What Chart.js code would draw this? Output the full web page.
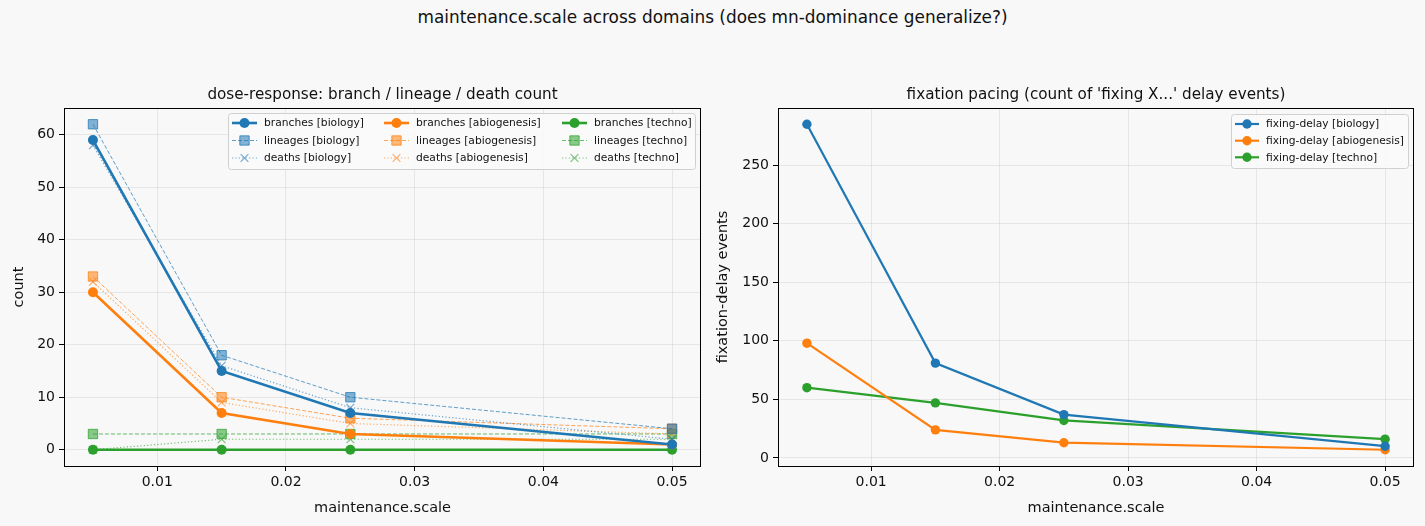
<!DOCTYPE html>
<html>
<head>
<meta charset="utf-8">
<script src="https://cdn.jsdelivr.net/npm/chart.js@4.4.1/dist/chart.umd.min.js"></script>
<style>
  html, body { margin: 0; padding: 0; background: #f8f8f8; }
  #wrap { position: relative; width: 1425px; height: 526px; background: #f8f8f8; overflow: hidden; }
  #sup { position: absolute; left: 0; top: 7px; width: 1425px; text-align: center;
         font-family: 'DejaVu Sans', sans-serif; font-size: 16.9px; color: #111; }
  canvas { position: absolute; top: 0; }
  #c1 { left: 0; }
  #c2 { left: 712px; }
</style>
</head>
<body>
<div id="wrap">
  <div id="sup">maintenance.scale across domains (does mn-dominance generalize?)</div>
  <canvas id="c1" width="712" height="526" style="width:712px;height:526px"></canvas>
  <canvas id="c2" width="713" height="526" style="width:713px;height:526px"></canvas>
</div>
<script>
// ---------------- data ----------------
const scales = [0.005, 0.015, 0.025, 0.05];
const xTicks = [0.01, 0.02, 0.03, 0.04, 0.05];
const countTicks = [0, 10, 20, 30, 40, 50, 60];
const delayTicks = [0, 50, 100, 150, 200, 250];

const branchesBiology = [59, 15, 7, 1];
const lineagesBiology = [62, 18, 10, 4];
const deathsBiology = [58, 16, 8, 2];
const branchesAbiogenesis = [30, 7, 3, 1];
const lineagesAbiogenesis = [33, 10, 6, 4];
const deathsAbiogenesis = [32, 9, 5, 3];
const branchesTechno = [0, 0, 0, 0];
const lineagesTechno = [3, 3, 3, 3];
const deathsTechno = [0, 2, 2, 2];

const fixingDelayBiology = [285, 81, 37, 10];
const fixingDelayAbiogenesis = [98, 24, 13, 7];
const fixingDelayTechno = [60, 47, 32, 16];

// ---------------- styling ----------------
const FONT = "'DejaVu Sans', sans-serif";
const C = { blue: [31,119,180], orange: [255,127,14], green: [44,160,44] };
const rgba = (c, a) => `rgba(${c[0]},${c[1]},${c[2]},${a})`;
const pts = ys => scales.map((x, i) => ({ x: x, y: ys[i] }));

function branchesDs(label, ys, c) {
  return { label, data: pts(ys), borderColor: rgba(c,1), backgroundColor: rgba(c,1),
    borderWidth: 2.6, pointStyle: 'circle', pointRadius: 5, pointBorderWidth: 0,
    pointBackgroundColor: rgba(c,1), tension: 0 };
}
function lineagesDs(label, ys, c) {
  return { label, data: pts(ys), borderColor: rgba(c,0.7), backgroundColor: rgba(c,0.55),
    borderWidth: 1, borderDash: [4, 2], pointStyle: 'rect', pointRadius: 6.6,
    pointBorderWidth: 1, pointBorderColor: rgba(c,0.75), pointBackgroundColor: rgba(c,0.55), tension: 0 };
}
function deathsDs(label, ys, c) {
  return { label, data: pts(ys), borderColor: rgba(c,0.65), backgroundColor: rgba(c,0.6),
    borderWidth: 1.2, borderDash: [1.2, 2.2], pointStyle: 'crossRot', pointRadius: 5.5,
    pointBorderWidth: 1.2, pointBorderColor: rgba(c,0.6), tension: 0 };
}
function delayDs(label, ys, c) {
  return { label, data: pts(ys), borderColor: rgba(c,1), backgroundColor: rgba(c,1),
    borderWidth: 2.2, pointStyle: 'circle', pointRadius: 4.7, pointBorderWidth: 0,
    pointBackgroundColor: rgba(c,1), tension: 0 };
}

function margins(arrs) {
  const all = [].concat(...arrs);
  const lo = Math.min(...all), hi = Math.max(...all);
  const m = (hi - lo) * 0.05;
  return { min: lo - m, max: hi + m };
}
const xr = (() => { const m = (scales[scales.length-1] - scales[0]) * 0.05;
  return { min: scales[0] - m, max: scales[scales.length-1] + m }; })();

// plugin: frame, subplot title, custom legend
const decor = {
  id: 'decor',
  afterDraw(chart, args, opts) {
    const ctx = chart.ctx, a = chart.chartArea;
    ctx.save();
    const L = opts.legend;
    if (L) {
      ctx.fillStyle = 'rgba(250,250,250,0.85)';
      ctx.strokeStyle = '#d0d0d0';
      ctx.lineWidth = 1;
      ctx.beginPath();
      ctx.roundRect(L.box[0] + 0.5, L.box[1] + 0.5, L.box[2], L.box[3], 3);
      ctx.fill(); ctx.stroke();
      ctx.font = L.fontSize + 'px ' + FONT;
      ctx.textBaseline = 'middle';
      ctx.textAlign = 'left';
      chart.data.datasets.forEach((ds, i) => {
        const col = Math.floor(i / L.rows), row = i % L.rows;
        const hx = L.colX[col], hy = L.rowY[row];
        ctx.save();
        ctx.strokeStyle = ds.borderColor;
        ctx.lineWidth = ds.borderWidth;
        ctx.setLineDash(ds.borderDash || []);
        ctx.beginPath(); ctx.moveTo(hx, hy); ctx.lineTo(hx + L.handle, hy); ctx.stroke();
        ctx.setLineDash([]);
        ctx.fillStyle = ds.pointBackgroundColor || ds.borderColor;
        ctx.strokeStyle = ds.pointBorderColor || ds.borderColor;
        Chart.helpers.drawPoint(ctx, { pointStyle: ds.pointStyle, radius: ds.pointRadius,
          rotation: 0, borderWidth: ds.pointBorderWidth }, hx + L.handle / 2, hy);
        ctx.restore();
        ctx.fillStyle = '#111';
        ctx.fillText(ds.label, hx + L.handle + L.gap, hy + 0.5);
      });
    }
    ctx.strokeStyle = '#000';
    ctx.lineWidth = 1;
    ctx.strokeRect(Math.round(a.left) + 0.5, Math.round(a.top) + 0.5,
                   Math.round(a.right - a.left) - 1, Math.round(a.bottom - a.top));
    ctx.fillStyle = '#111';
    ctx.font = '15.2px ' + FONT;
    ctx.textAlign = 'center';
    ctx.textBaseline = 'middle';
    ctx.fillText(opts.title, (a.left + a.right) / 2, a.top - 13);
    ctx.restore();
  }
};

function makeOptions(yr, yTickVals, yTitle, yAxisWidth, yTitlePad, padRight, legend, title) {
  return {
    responsive: false, animation: false, devicePixelRatio: 1,
    layout: { padding: { top: 108, right: padRight, bottom: 0, left: 0 } },
    plugins: { legend: { display: false }, tooltip: { enabled: false },
               decor: { legend, title } },
    scales: {
      x: { type: 'linear', min: xr.min, max: xr.max,
        afterBuildTicks: s => { s.ticks = xTicks.map(v => ({ value: v })); },
        afterFit: s => { s.height = 60; },
        grid: { color: 'rgba(0,0,0,0.09)', lineWidth: 0.8, tickColor: '#000', tickLength: 5, tickWidth: 1 },
        border: { display: false },
        ticks: { color: '#111', font: { family: FONT, size: 14 }, padding: 3, maxRotation: 0,
                 callback: v => v.toFixed(2) },
        title: { display: true, text: 'maintenance.scale', color: '#111',
                 font: { family: FONT, size: 14.5 }, padding: { top: 0, bottom: 9 } } },
      y: { type: 'linear', min: yr.min, max: yr.max,
        afterBuildTicks: s => { s.ticks = yTickVals.map(v => ({ value: v })); },
        afterFit: s => { s.width = yAxisWidth; },
        grid: { color: 'rgba(0,0,0,0.09)', lineWidth: 0.8, tickColor: '#000', tickLength: 5, tickWidth: 1 },
        border: { display: false },
        ticks: { color: '#111', font: { family: FONT, size: 14 }, padding: 4,
                 callback: v => String(v) },
        title: { display: true, text: yTitle, color: '#111',
                 font: { family: FONT, size: 14.5 }, padding: { top: yTitlePad, bottom: 0 } } }
    }
  };
}

Chart.register(decor);

new Chart(document.getElementById('c1'), {
  type: 'line',
  data: { datasets: [
    branchesDs('branches [biology]', branchesBiology, C.blue),
    lineagesDs('lineages [biology]', lineagesBiology, C.blue),
    deathsDs('deaths [biology]', deathsBiology, C.blue),
    branchesDs('branches [abiogenesis]', branchesAbiogenesis, C.orange),
    lineagesDs('lineages [abiogenesis]', lineagesAbiogenesis, C.orange),
    deathsDs('deaths [abiogenesis]', deathsAbiogenesis, C.orange),
    branchesDs('branches [techno]', branchesTechno, C.green),
    lineagesDs('lineages [techno]', lineagesTechno, C.green),
    deathsDs('deaths [techno]', deathsTechno, C.green)
  ] },
  options: makeOptions(
    margins([branchesBiology, lineagesBiology, deathsBiology, branchesAbiogenesis, lineagesAbiogenesis,
             deathsAbiogenesis, branchesTechno, lineagesTechno, deathsTechno]),
    countTicks, 'count', 64, 11, 11,
    { box: [228, 113, 467, 56], rows: 3, rowY: [123, 140.5, 158], colX: [232, 384, 562],
      handle: 25, gap: 7, fontSize: 10.7 },
    'dose-response: branch / lineage / death count')
});

new Chart(document.getElementById('c2'), {
  type: 'line',
  data: { datasets: [
    delayDs('fixing-delay [biology]', fixingDelayBiology, C.blue),
    delayDs('fixing-delay [abiogenesis]', fixingDelayAbiogenesis, C.orange),
    delayDs('fixing-delay [techno]', fixingDelayTechno, C.green)
  ] },
  options: makeOptions(
    margins([fixingDelayBiology, fixingDelayAbiogenesis, fixingDelayTechno]),
    delayTicks, 'fixation-delay events', 66, 2.3, 11,
    { box: [519, 114, 177, 54], rows: 3, rowY: [124, 140.7, 157.3], colX: [523],
      handle: 24, gap: 7, fontSize: 10.7 },
    "fixation pacing (count of 'fixing X...' delay events)")
});
</script>
</body>
</html>
